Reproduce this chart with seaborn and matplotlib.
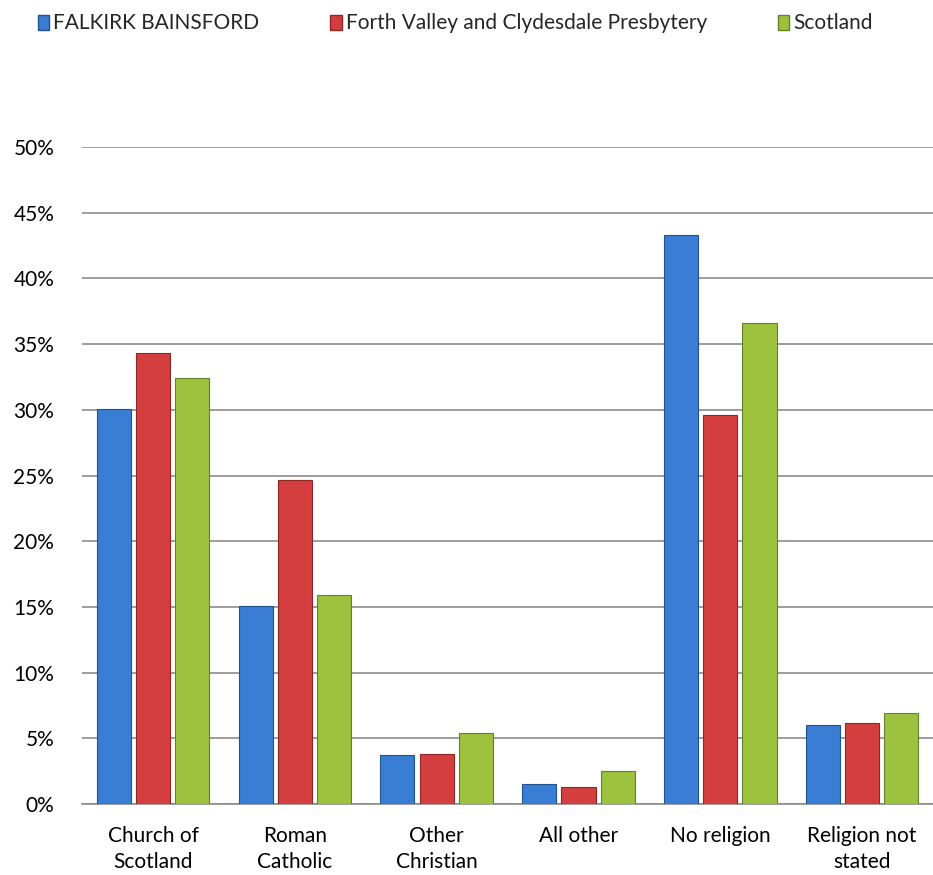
import pandas as pd
import matplotlib.pyplot as plt
import seaborn as sns
from matplotlib.ticker import PercentFormatter

categories = ["Church of\nScotland", "Roman\nCatholic", "Other\nChristian",
              "All other", "No religion", "Religion not\nstated"]
series = ["FALKIRK BAINSFORD", "Forth Valley and Clydesdale Presbytery", "Scotland"]
falkirk = [30.1, 15.1, 3.7, 1.5, 43.3, 6.0]
forth_valley = [34.3, 24.7, 3.8, 1.3, 29.6, 6.2]
scotland = [32.4, 15.9, 5.4, 2.5, 36.6, 6.9]
colors = ["#3A7DD4", "#D53E3E", "#9CC23E"]
edges = ["#22538F", "#8E2626", "#64802A"]

df = pd.DataFrame({
    "category": categories * 3,
    "series": [series[0]] * 6 + [series[1]] * 6 + [series[2]] * 6,
    "value": falkirk + forth_valley + scotland,
})

sns.set_style("white")
plt.rcParams["font.family"] = ["Lato", "DejaVu Sans"]

fig = plt.figure(figsize=(9.33, 8.75), dpi=100)
ax = fig.add_axes([0.088, 0.081, 0.912, 0.751])

sns.barplot(data=df, x="category", y="value", hue="series", hue_order=series,
            order=categories, palette=colors, saturation=1, width=0.83, gap=0.13,
            ax=ax, legend=False, zorder=3)

for i, cont in enumerate(ax.containers):
    for bar in cont:
        bar.set_edgecolor(edges[i])
        bar.set_linewidth(0.8)

ax.set_ylim(0, 50)
ax.set_yticks(range(0, 51, 5))
ax.yaxis.set_major_formatter(PercentFormatter(decimals=0))
ax.yaxis.grid(True, color="#8C8C8C", linewidth=1.2, zorder=0)
ax.set_axisbelow(True)
for s in ["left", "right", "top"]:
    ax.spines[s].set_visible(False)
ax.spines["bottom"].set_color("#8C8C8C")
ax.spines["bottom"].set_linewidth(1.2)
ax.tick_params(axis="both", length=0, labelsize=15, colors="#000000")
ax.tick_params(axis="x", pad=16)
ax.tick_params(axis="y", pad=20)
for lbl in ax.get_xticklabels():
    lbl.set_linespacing(1.35)
ax.set_xlabel("")
ax.set_ylabel("")

handles = [plt.Rectangle((0, 0), 1, 1, facecolor=c, edgecolor=e) for c, e in zip(colors, edges)]
fig.legend(handles, series, loc="upper center", bbox_to_anchor=(0.488, 1.006), ncol=3,
           frameon=False, fontsize=15, handlelength=0.55, handleheight=0.75,
           handletextpad=0.2, columnspacing=3.4)

fig.savefig("out.png", dpi=100)
